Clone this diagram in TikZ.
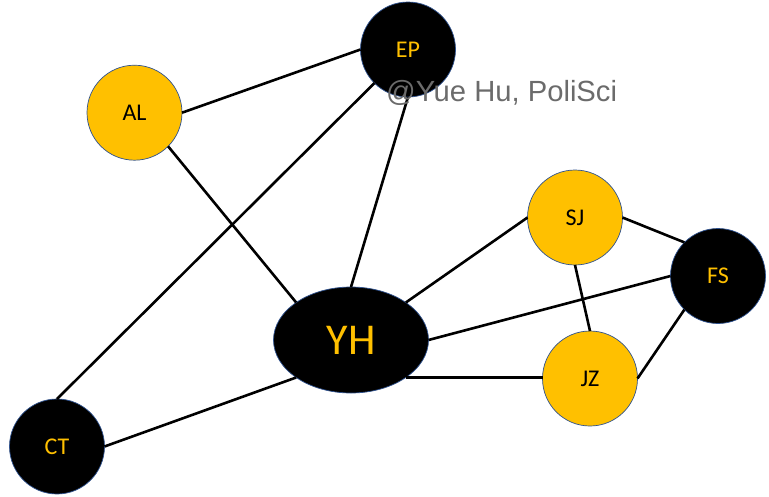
\documentclass[tikz,border=0pt]{standalone}
\usepackage{fontspec}
\setmainfont{Carlito}
\newfontfamily\wmfont{Liberation Sans}
\usetikzlibrary{shapes.geometric}
\definecolor{gold}{HTML}{FFC000}
\definecolor{rim}{HTML}{2F528F}
\definecolor{wm}{HTML}{6B6B6B}
\tikzset{
  base/.style={draw=rim, line width=0.7pt, inner sep=0pt, outer sep=0pt},
  yel/.style={base, circle, fill=gold, text=black, minimum size=95pt, font=\fontsize{24}{27}\selectfont},
  blk/.style={base, circle, fill=black, text=gold, minimum size=95pt, font=\fontsize{24}{27}\selectfont},
  link/.style={line width=2.6pt, black},
}
\begin{document}
\begin{tikzpicture}[x=1pt, y=-1pt]
\useasboundingbox (0,0) rectangle (769,496);
\node[blk] (EP) at (408,49.5) {EP};
\node[yel] (AL) at (134.5,112.7) {AL};
\node[yel] (SJ) at (575,217.5) {SJ};
\node[blk] (FS) at (718,276) {FS};
\node[base, ellipse, fill=black, text=gold, minimum width=155pt, minimum height=106pt, font=\fontsize{44}{48}\selectfont] (YH) at (351,340) {YH};
\node[yel] (JZ) at (590,378.5) {JZ};
\node[blk] (CT) at (57,446.5) {CT};
\draw[link] (AL.east) -- (EP.west);
\draw[link] (AL.south east) -- (YH.north west);
\draw[link] (EP.south west) -- (CT.north);
\draw[link] (EP.south) -- (YH.north);
\draw[link] (YH.north east) -- (SJ.west);
\draw[link] (SJ.east) -- (FS.north west);
\draw[link] (SJ.south) -- (JZ.north);
\draw[link] (YH.east) -- (FS.west);
\draw[link] (YH.south east) -- (YH.south east -| JZ.west);
\draw[link] (JZ.east) -- (FS.south west);
\draw[link] (CT.east) -- (YH.south west);
\node[anchor=base west, inner sep=0pt, text=wm, font=\wmfont\fontsize{29.2}{32}\selectfont] (WM) at (386,101.7) {@Yue Hu, PoliSci};
\end{tikzpicture}
\end{document}
